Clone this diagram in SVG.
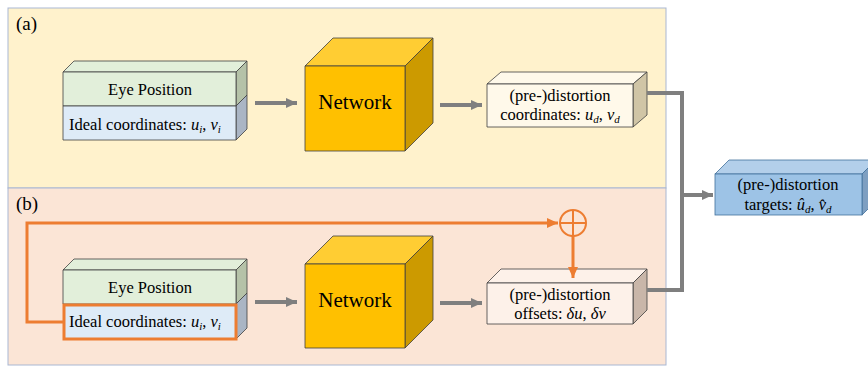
<svg xmlns="http://www.w3.org/2000/svg" width="868" height="367" viewBox="0 0 868 367" font-family="'Liberation Serif', 'DejaVu Serif', serif">
<style>
text{font-family:'Liberation Serif','DejaVu Serif',serif;fill:#000}
.t{font-size:16.5px}
.lab{font-size:19px}
.net{font-size:21px}
.m{font-style:italic}
.s{font-size:11px;font-style:italic}
.edge{stroke:#404040;stroke-width:0.8;stroke-linejoin:round}
.gray{stroke:#7F7F7F;stroke-width:4;fill:none}
.or{stroke:#ED7D31;stroke-width:3;fill:none}
</style>
<defs>
<marker id="ag" markerUnits="userSpaceOnUse" markerWidth="12" markerHeight="12" refX="11" refY="6" orient="auto">
<path d="M0,1 L11,6 L0,11 z" fill="#7F7F7F"/>
</marker>
<marker id="ao" markerUnits="userSpaceOnUse" markerWidth="12" markerHeight="12" refX="11" refY="6" orient="auto">
<path d="M0,1 L11,6 L0,11 z" fill="#ED7D31"/>
</marker>
</defs>
<g id="panel-a">
<rect x="8" y="8" width="658" height="180" fill="#FFF2CC" stroke="#A9B7D3" stroke-width="1"/>
<text class="lab" x="16" y="30">(a)</text>
</g>
<g id="panel-b">
<rect x="8" y="188" width="658" height="177" fill="#FBE5D6" stroke="#A9B7D3" stroke-width="1"/>
<text class="lab" x="16" y="210">(b)</text>
</g>

<g id="eye-a">
<polygon class="edge" points="63,72 74,61 247,61 236,72" fill="#E2EFDA"/>
<polygon class="edge" points="236,72 247,61 247,95 236,106" fill="#B5C2A8"/>
<polygon class="edge" points="236,106 247,95 247,129 236,140" fill="#AAB5C4"/>
<rect class="edge" x="63" y="72" width="173" height="34" fill="#E2EFDA"/>
<rect class="edge" x="63" y="106" width="173" height="34" fill="#DEEBF7"/>
<text class="t" x="150" y="95" text-anchor="middle">Eye Position</text>
<text class="t" x="69" y="130">Ideal coordinates: <tspan class="m">u</tspan><tspan class="s" dy="3">i</tspan><tspan dy="-3">, </tspan><tspan class="m">v</tspan><tspan class="s" dy="3">i</tspan></text>
</g>

<g id="network-a">
<polygon class="edge" points="305,66 333,38 433,38 405,66" fill="#FFCD33"/>
<polygon class="edge" points="405,66 433,38 433,123 405,151" fill="#CC9A00"/>
<rect class="edge" x="305" y="66" width="100" height="85" fill="#FFC000"/>
<text class="net" x="355" y="109" text-anchor="middle">Network</text>
</g>

<g id="output-a">
<polygon class="edge" points="487,84 501,72 647,72 633,84" fill="#FFF9EA"/>
<polygon class="edge" points="633,84 647,72 647,115 633,127" fill="#D0C5A6"/>
<rect class="edge" x="487" y="84" width="146" height="43" fill="#FFF9EA"/>
<text class="t" x="560" y="101" text-anchor="middle">(pre-)distortion</text>
<text class="t" x="560" y="120" text-anchor="middle">coordinates: <tspan class="m">u</tspan><tspan class="s" dy="3">d</tspan><tspan dy="-3">, </tspan><tspan class="m">v</tspan><tspan class="s" dy="3">d</tspan></text>
</g>

<g id="eye-b">
<polygon class="edge" points="63,270 74,259 247,259 236,270" fill="#E2EFDA"/>
<polygon class="edge" points="236,270 247,259 247,293 236,304" fill="#B5C2A8"/>
<polygon class="edge" points="236,304 247,293 247,328 236,339" fill="#AAB5C4"/>
<rect class="edge" x="63" y="270" width="173" height="34" fill="#E2EFDA"/>
<rect x="64" y="305" width="172" height="34" fill="#DEEBF7" stroke="#ED7D31" stroke-width="3"/>
<text class="t" x="150" y="293" text-anchor="middle">Eye Position</text>
<text class="t" x="69" y="327">Ideal coordinates: <tspan class="m">u</tspan><tspan class="s" dy="3">i</tspan><tspan dy="-3">, </tspan><tspan class="m">v</tspan><tspan class="s" dy="3">i</tspan></text>
</g>

<g id="network-b">
<polygon class="edge" points="305,264 333,236 433,236 405,264" fill="#FFCD33"/>
<polygon class="edge" points="405,264 433,236 433,320 405,348" fill="#CC9A00"/>
<rect class="edge" x="305" y="264" width="100" height="84" fill="#FFC000"/>
<text class="net" x="355" y="307" text-anchor="middle">Network</text>
</g>

<g id="output-b">
<polygon class="edge" points="487,283 501,269 647,269 633,283" fill="#FDF1E9"/>
<polygon class="edge" points="633,283 647,269 647,310 633,324" fill="#C9B6A9"/>
<rect class="edge" x="487" y="283" width="146" height="41" fill="#FDF1E9"/>
<text class="t" x="560" y="300" text-anchor="middle">(pre-)distortion</text>
<text class="t" x="560" y="319" text-anchor="middle">offsets: <tspan class="m">δu</tspan>, <tspan class="m">δv</tspan></text>
</g>

<g id="sum">
<circle cx="573" cy="223" r="13" fill="none" stroke="#ED7D31" stroke-width="2"/>
<path d="M560,223 H586 M573,210 V236" stroke="#ED7D31" stroke-width="2" fill="none"/>
</g>

<g id="target">
<polygon points="715,174 729,160 876,160 862,174" fill="#B3CFEA" stroke="#41719C" stroke-width="0.8"/>
<polygon points="862,174 876,160 876,201 862,215" fill="#7E9FC1" stroke="#41719C" stroke-width="0.8"/>
<rect x="715" y="174" width="147" height="41" fill="#9DC3E6" stroke="#41719C" stroke-width="0.8"/>
<text class="t" x="788" y="190" text-anchor="middle">(pre-)distortion</text>
<text class="t" x="788" y="210" text-anchor="middle">targets: <tspan class="m">û</tspan><tspan class="s" dy="3">d</tspan><tspan dy="-3">,  </tspan><tspan class="m">v̂</tspan><tspan class="s" dy="3">d</tspan></text>
</g>

<g id="connectors">
<line class="gray" x1="255" y1="103" x2="297" y2="103" marker-end="url(#ag)"/>
<line class="gray" x1="440" y1="105" x2="482" y2="105" marker-end="url(#ag)"/>
<line class="gray" x1="255" y1="302" x2="297" y2="302" marker-end="url(#ag)"/>
<line class="gray" x1="440" y1="303" x2="482" y2="303" marker-end="url(#ag)"/>
<path class="gray" d="M647,93 H682 V290 H647"/>
<line class="gray" x1="682" y1="195" x2="713" y2="195" marker-end="url(#ag)"/>
<path class="or" d="M63,322 H27 V223 H558" marker-end="url(#ao)"/>
<line class="or" x1="573" y1="236" x2="573" y2="278" marker-end="url(#ao)"/>
</g>
</svg>
